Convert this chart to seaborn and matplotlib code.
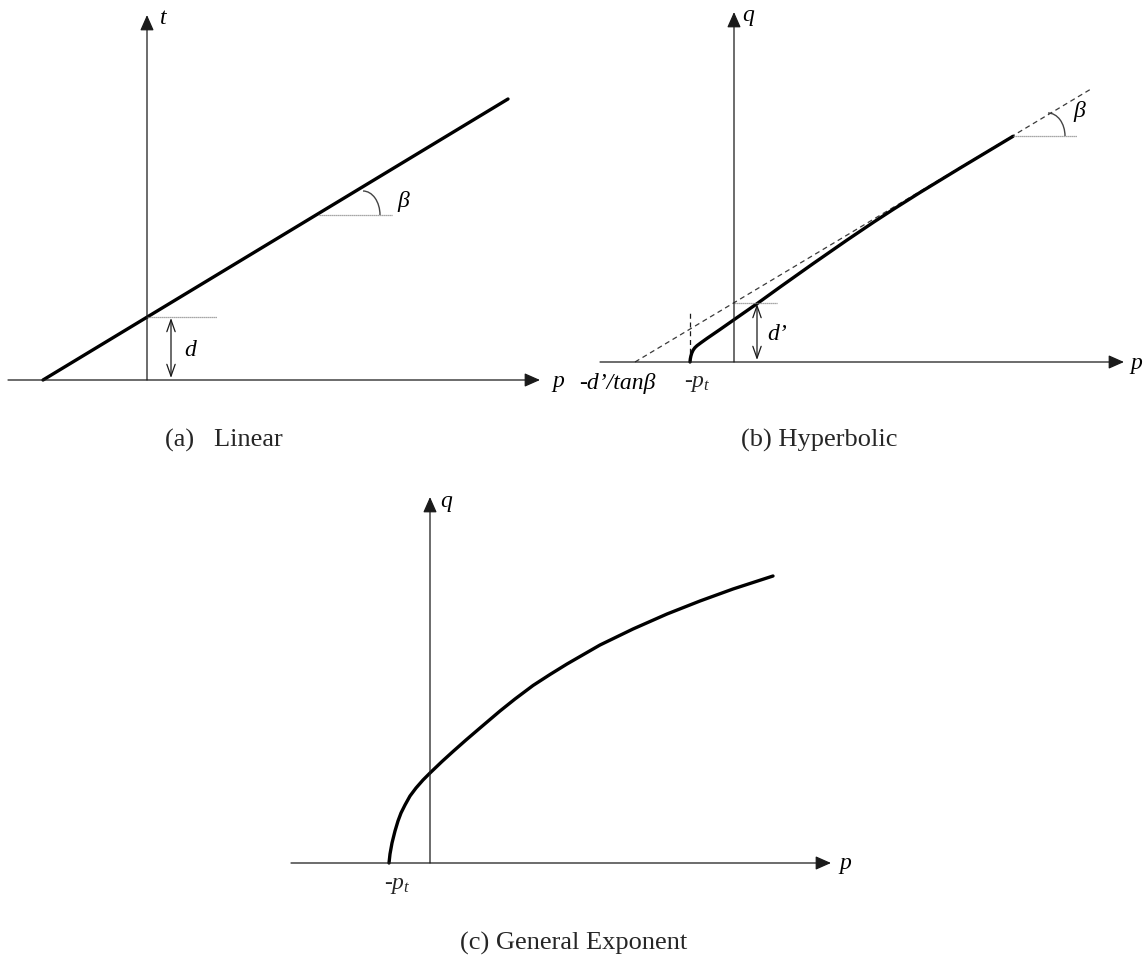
import matplotlib
matplotlib.use("Agg")
import matplotlib.pyplot as plt
from matplotlib.patches import Arc
import seaborn as sns

sns.set_theme(style="white")
plt.rcParams["font.family"] = ["Liberation Serif", "DejaVu Serif"]
plt.rcParams["mathtext.fontset"] = "custom"
plt.rcParams["mathtext.rm"] = "Liberation Serif"
plt.rcParams["mathtext.it"] = "Liberation Serif:italic"

# (a) Linear envelope: t = d + p tan(beta)
linear_p = [-104, 361]
linear_t = [0, 281]
linear_d = 63

# (b) Hyperbolic envelope and its straight asymptote
hyper_p = [-44, -43.7, -43.1, -42.2, -40.9, -39.2, -37, -33, -27, -14, 1, 23,
           46, 79, 113, 140, 160, 186, 226, 279]
hyper_q = [0, 3, 6, 9, 11.8, 14.2, 16.3, 19.3, 23.6, 32.5, 43, 58.3,
           74.9, 98.3, 121.9, 140.1, 153.1, 169.5, 193.9, 225.7]
asym_p = [-99, 357]
asym_q = [0, 273]
hyper_d = 59
hyper_pt = -44

# (c) General exponent envelope
gexp_p = [-41, -40, -38, -35, -32, -29, -25, -20, -14, -7, 0, 12, 23, 36, 50,
          70, 85, 103, 120, 137, 170, 203, 237, 270, 303, 343]
gexp_q = [0, 9, 20, 32, 42, 50, 58, 67, 75, 83, 90, 101.5, 111.5, 123, 135,
          152, 164, 177.5, 188.5, 199, 218, 234, 249, 262, 274, 287]

W, H = 1148, 961
fig = plt.figure(figsize=(W / 100, H / 100), dpi=100)

AX_COLOR = "#1a1a1a"
GUIDE = "#8a8a8a"
CURVE_LW = 2.4
LBL = dict(fontstyle="italic", fontsize=17, color="black")
CAPTION = 19


def panel(x0, y0, x1, y1, ox, oy):
    """Axes covering a pixel box, one data unit per pixel, origin at (ox, oy)."""
    ax = fig.add_axes([x0 / W, 1 - y1 / H, (x1 - x0) / W, (y1 - y0) / H])
    ax.set_xlim(x0 - ox, x1 - ox)
    ax.set_ylim(oy - y1, oy - y0)
    ax.axis("off")
    return ax


def axis_arrow(ax, start, end):
    ax.annotate("", xy=end, xytext=start,
                arrowprops=dict(arrowstyle="-|>,head_length=0.95,head_width=0.42",
                                color=AX_COLOR, lw=0.9, shrinkA=0, shrinkB=0,
                                mutation_scale=10))


def dim_arrow(ax, x, y0, y1):
    ax.annotate("", xy=(x, y1), xytext=(x, y0),
                arrowprops=dict(arrowstyle="<->,head_length=0.85,head_width=0.3",
                                color=AX_COLOR, lw=0.9, shrinkA=0, shrinkB=0,
                                mutation_scale=10))


def angle_mark(ax, p0, q0, length, cx, rx, ry):
    ax.plot([p0, p0 + length], [q0, q0], color=GUIDE, lw=0.9, ls=(0, (1, 0.6)))
    ax.add_patch(Arc((cx, q0), 2 * rx, 2 * ry, theta1=0, theta2=90,
                     color="#444444", lw=1.0))


# ---------------- (a) Linear ----------------
ax = panel(0, 0, 580, 470, 147, 380)
axis_arrow(ax, (-139, 0), (393, 0))
axis_arrow(ax, (0, 0), (0, 365))
sns.lineplot(x=linear_p, y=linear_t, ax=ax, color="black", lw=CURVE_LW,
             sort=False, estimator=None)
ax.plot([0, 70], [linear_d, linear_d], color=GUIDE, lw=0.9, ls=(0, (1, 0.6)))
dim_arrow(ax, 24, 2, linear_d - 1)
angle_mark(ax, 172, 165, 73, 216, 17, 24)
ax.text(16, 362, "t", ha="center", va="center", **LBL)
ax.text(411, -1, "p", ha="center", va="center", **LBL)
ax.text(43, 30, "d", ha="center", va="center", **LBL)
ax.text(256, 178, "β", ha="center", va="center", **LBL)
fig.text(224 / W, 1 - 440 / H, "(a)   Linear", ha="center", va="center",
         fontsize=CAPTION)

# ---------------- (b) Hyperbolic ----------------
ax = panel(580, 0, 1148, 470, 734, 362)
axis_arrow(ax, (-134, 0), (390, 0))
axis_arrow(ax, (0, 0), (0, 350))
ax.plot(asym_p, asym_q, color="#3a3a3a", lw=0.9, ls=(0, (4, 3)))
ax.plot([hyper_pt, hyper_pt], [0, 50], color="#1a1a1a", lw=0.9, ls=(0, (4, 3)))
sns.lineplot(x=hyper_p, y=hyper_q, ax=ax, color="black", lw=CURVE_LW,
             sort=False, estimator=None)
ax.plot([0, 43], [hyper_d, hyper_d], color=GUIDE, lw=0.9, ls=(0, (1, 0.6)))
dim_arrow(ax, 23, 2, hyper_d - 1)
angle_mark(ax, 279, 226, 64, 314, 17, 23)
ax.text(14, 347, "q", ha="center", va="center", **LBL)
ax.text(402, -1, "p", ha="center", va="center", **LBL)
ax.text(-117, -21, "-d’/tanβ", ha="center", va="center", **LBL)
ax.text(-37, -22, r"-$p_t$", ha="center", va="center", fontsize=17)
ax.text(43, 27, "d’", ha="center", va="center", **LBL)
ax.text(345, 250, "β", ha="center", va="center", **LBL)
fig.text(819 / W, 1 - 440 / H, "(b) Hyperbolic", ha="center", va="center",
         fontsize=CAPTION)

# ---------------- (c) General Exponent ----------------
ax = panel(280, 470, 860, 961, 430, 863)
axis_arrow(ax, (-139, 0), (401, 0))
axis_arrow(ax, (0, 0), (0, 366))
sns.lineplot(x=gexp_p, y=gexp_q, ax=ax, color="black", lw=CURVE_LW,
             sort=False, estimator=None)
ax.text(16, 362, "q", ha="center", va="center", **LBL)
ax.text(415, -1, "p", ha="center", va="center", **LBL)
ax.text(-33, -22, r"-$p_t$", ha="center", va="center", fontsize=17)
fig.text(574 / W, 1 - 943 / H, "(c) General Exponent", ha="center",
         va="center", fontsize=CAPTION)

fig.savefig("out.png", dpi=100, facecolor="white")
